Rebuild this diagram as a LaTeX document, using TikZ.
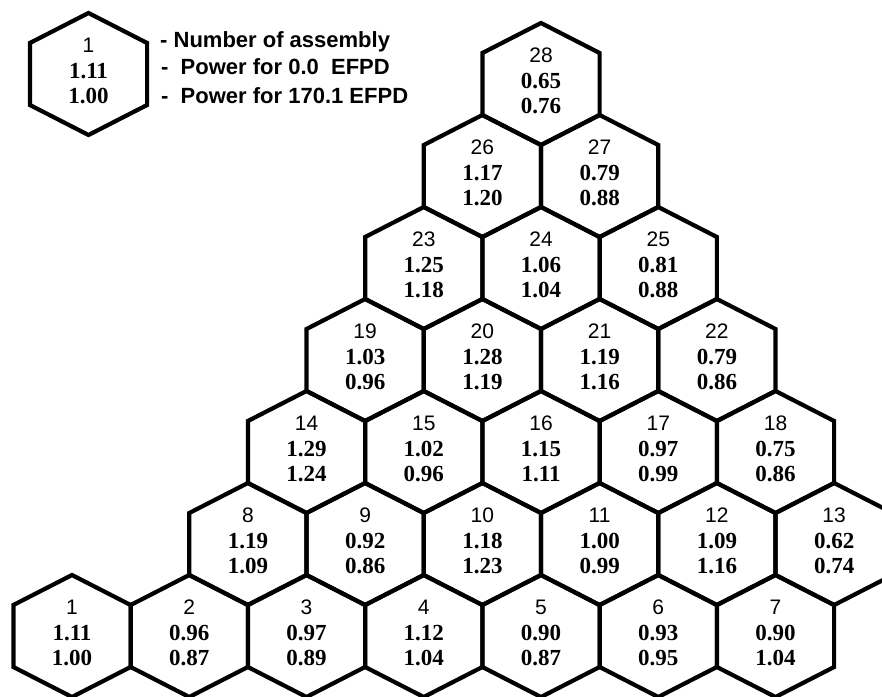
\documentclass[tikz,border=0pt]{standalone}
\usepackage{fontspec}
\usetikzlibrary{positioning}
\newfontfamily\numfont{Liberation Sans}
\newfontfamily\powfont{Liberation Serif}
\tikzset{
  hexline/.style ={draw=black,line width=4.2pt,line join=miter},
  numtxt/.style  ={inner sep=0pt,font=\fontsize{21}{21}\selectfont\numfont},
  powtxt/.style  ={inner sep=0pt,font=\fontsize{23}{23}\selectfont\powfont\bfseries},
  legtxt/.style  ={inner sep=0pt,anchor=base west,
                   font=\fontsize{22}{22}\selectfont\numfont\bfseries},
}
\newcommand{\drawhex}[1]{%
  \draw[hexline] (#1) +(0,-61) -- +(58.6,-31) -- +(58.6,31) -- +(0,61)
                      -- +(-58.6,31) -- +(-58.6,-31) -- cycle;}
\newcommand{\hexcell}[4]{%
  \drawhex{#1}
  \node[numtxt] (n#1) at ([yshift=29pt]#1) {#2};
  \node[powtxt] (a#1) at ([yshift=3pt]#1)  {#3};
  \node[powtxt] (b#1) at ([yshift=-22pt]#1) {#4};}

\begin{document}
\begin{tikzpicture}[x=1pt,y=-1pt]
  \useasboundingbox (0,0) rectangle (882,696);
  % legend
  \coordinate (key) at (88.5,74);
  \hexcell{key}{1}{1.11}{1.00}
  \node[legtxt] (lnum) at (160,47)  {- Number of assembly};
  \node[legtxt] (lbeg) at (161,74)  {-~ Power for 0.0~ EFPD};
  \node[legtxt] (lend) at (161,103) {-~ Power for 170.1 EFPD};
  % assemblies: number / column / row / power at 0.0 / power at 170.1
  \foreach \n/\c/\r/\pa/\pb in {
      1/0/0/1.11/1.00, 2/1/0/0.96/0.87, 3/2/0/0.97/0.89, 4/3/0/1.12/1.04,
      5/4/0/0.90/0.87, 6/5/0/0.93/0.95, 7/6/0/0.90/1.04,
      8/1.5/1/1.19/1.09, 9/2.5/1/0.92/0.86, 10/3.5/1/1.18/1.23,
      11/4.5/1/1.00/0.99, 12/5.5/1/1.09/1.16, 13/6.5/1/0.62/0.74,
      14/2/2/1.29/1.24, 15/3/2/1.02/0.96, 16/4/2/1.15/1.11,
      17/5/2/0.97/0.99, 18/6/2/0.75/0.86,
      19/2.5/3/1.03/0.96, 20/3.5/3/1.28/1.19, 21/4.5/3/1.19/1.16,
      22/5.5/3/0.79/0.86,
      23/3/4/1.25/1.18, 24/4/4/1.06/1.04, 25/5/4/0.81/0.88,
      26/3.5/5/1.17/1.20, 27/4.5/5/0.79/0.88,
      28/4/6/0.65/0.76}{
    \coordinate (fa\n) at ({72+\c*117.25},{636-\r*92});
    \hexcell{fa\n}{\n}{\pa}{\pb}
  }
\end{tikzpicture}
\end{document}
